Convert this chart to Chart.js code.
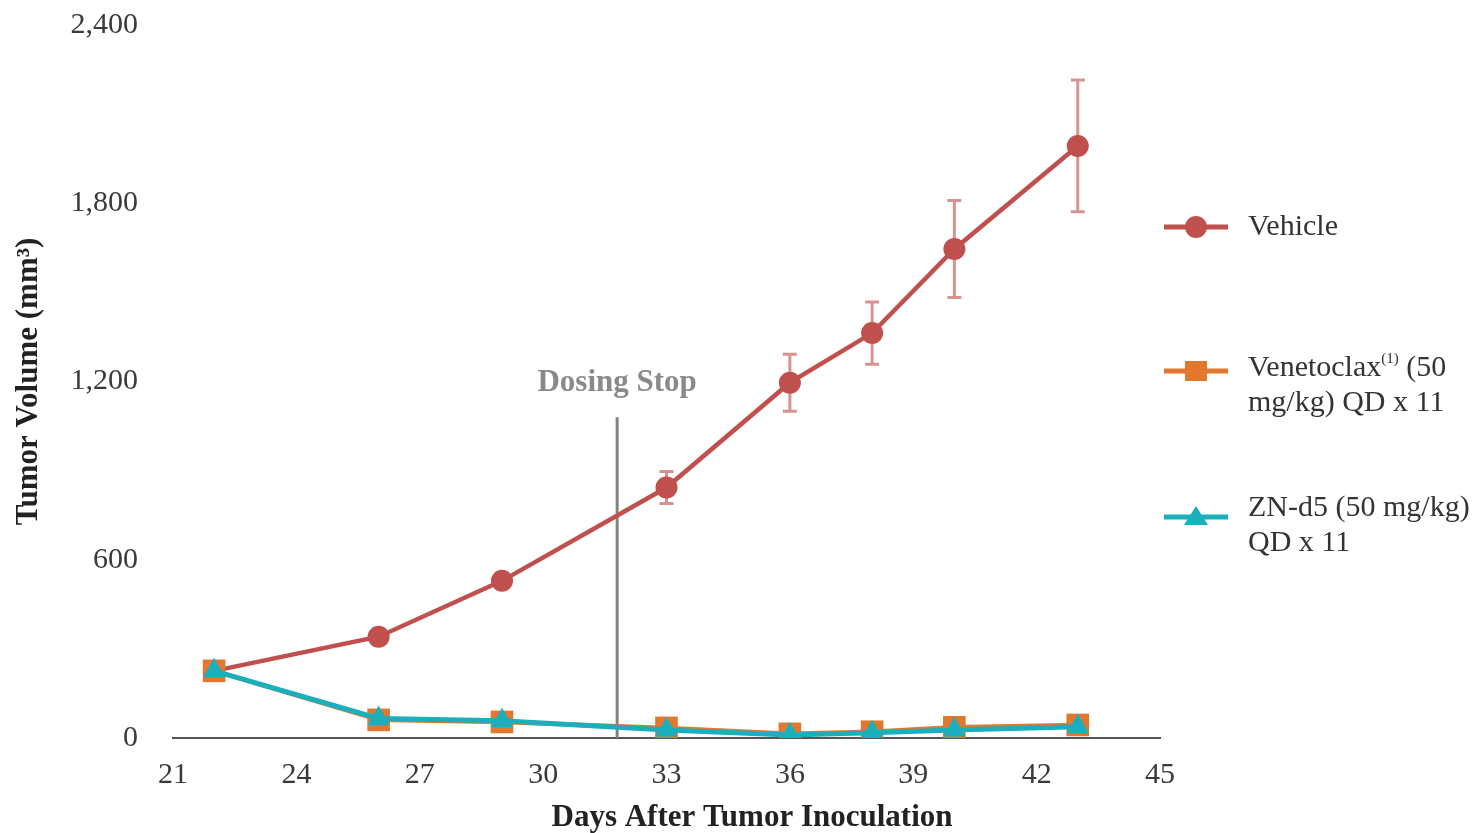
<!DOCTYPE html>
<html>
<head>
<meta charset="utf-8">
<script src="https://cdn.jsdelivr.net/npm/chart.js@4/dist/chart.umd.min.js"></script>
<style>
  html, body { margin: 0; padding: 0; background: #ffffff; }
  #wrap { width: 1474px; height: 833px; position: relative; }
</style>
</head>
<body>
<div id="wrap"><canvas id="c" width="1474" height="833"></canvas></div>
<script>
// ---- Data ----
const days = [22, 26, 29, 33, 36, 38, 40, 43];
const vehicle = [226, 341, 529, 843, 1196, 1363, 1646, 1993];
const vehicleErr = [0, 0, 0, 54, 96, 105, 163, 222];
const venetoclax = [226, 61, 54, 34, 14, 21, 36, 44];
const znd5 = [226, 66, 58, 27, 10, 18, 27, 38];
const xTicks = [21, 24, 27, 30, 33, 36, 39, 42, 45];
const yTicks = [0, 600, 1200, 1800, 2400];
const dosingStopDay = 31.8;
const dosingStopTop = 1080;
const dosingLabelValue = 1195;
const seriesNames = ['Vehicle', 'Venetoclax', 'ZN-d5'];
const xTitle = 'Days After Tumor Inoculation';
const yTitle = 'Tumor Volume (mm³)';

const RED = '#C0504D';
const ORANGE = '#E2772E';
const TEAL = '#1BAEBC';
const SERIF = "'Liberation Serif', 'Times New Roman', serif";

function pts(xs, ys) { return xs.map((x, i) => ({ x: x, y: ys[i] })); }

const errorBarsPlugin = {
  id: 'errorBars',
  beforeDatasetsDraw(chart) {
    const ctx = chart.ctx, xs = chart.scales.x, ys = chart.scales.y;
    ctx.save();
    ctx.strokeStyle = 'rgba(192,80,77,0.62)';
    ctx.lineWidth = 3;
    days.forEach((d, i) => {
      const e = vehicleErr[i];
      if (!e) return;
      const x = xs.getPixelForValue(d);
      const yt = ys.getPixelForValue(vehicle[i] + e);
      const yb = ys.getPixelForValue(vehicle[i] - e);
      ctx.beginPath();
      ctx.moveTo(x, yt); ctx.lineTo(x, yb);
      ctx.moveTo(x - 7, yt); ctx.lineTo(x + 7, yt);
      ctx.moveTo(x - 7, yb); ctx.lineTo(x + 7, yb);
      ctx.stroke();
    });
    ctx.restore();
  }
};

const annotPlugin = {
  id: 'annot',
  afterDatasetsDraw(chart) {
    const ctx = chart.ctx, xs = chart.scales.x, ys = chart.scales.y;
    ctx.save();
    ctx.fillStyle = '#8a8a8a';
    ctx.font = 'bold 31px ' + SERIF;
    ctx.textAlign = 'center';
    ctx.textBaseline = 'middle';
    ctx.fillText('Dosing Stop', xs.getPixelForValue(dosingStopDay), ys.getPixelForValue(dosingLabelValue));
    // x-axis title (offset to the right as in the source figure)
    ctx.fillStyle = '#222222';
    ctx.font = 'bold 31px ' + SERIF;
    ctx.fillText(xTitle, 752, 818);
    ctx.restore();
  }
};

function drawMarker(ctx, style, x, y, color) {
  ctx.fillStyle = color;
  ctx.beginPath();
  if (style === 'circle') {
    ctx.arc(x, y, 11, 0, Math.PI * 2);
  } else if (style === 'rect') {
    ctx.rect(x - 11, y - 10, 22, 20);
  } else {
    ctx.moveTo(x, y - 11);
    ctx.lineTo(x + 12, y + 8);
    ctx.lineTo(x - 12, y + 8);
    ctx.closePath();
  }
  ctx.fill();
}

const legendPlugin = {
  id: 'customLegend',
  afterDraw(chart) {
    const ctx = chart.ctx;
    const items = [
      { color: RED, style: 'circle', my: 227, lines: [[{ t: seriesNames[0] }]], ty: [227] },
      { color: ORANGE, style: 'rect', my: 371, lines: [[{ t: seriesNames[1] }, { t: '(1)', sup: true }, { t: ' (50' }], [{ t: 'mg/kg) QD x 11' }]], ty: [368, 403] },
      { color: TEAL, style: 'triangle', my: 517, lines: [[{ t: seriesNames[2] + ' (50 mg/kg)' }], [{ t: 'QD x 11' }]], ty: [508, 543] }
    ];
    ctx.save();
    items.forEach(it => {
      ctx.strokeStyle = it.color;
      ctx.lineWidth = 5;
      ctx.beginPath();
      ctx.moveTo(1164, it.my); ctx.lineTo(1228, it.my);
      ctx.stroke();
      drawMarker(ctx, it.style, 1196, it.my, it.color);
      ctx.fillStyle = '#333333';
      ctx.textBaseline = 'middle';
      ctx.textAlign = 'left';
      it.lines.forEach((parts, li) => {
        let x = 1248;
        parts.forEach(p => {
          if (p.sup) {
            ctx.font = '15px ' + SERIF;
            ctx.fillText(p.t, x, it.ty[li] - 9);
          } else {
            ctx.font = '30px ' + SERIF;
            ctx.fillText(p.t, x, it.ty[li]);
          }
          x += ctx.measureText(p.t).width;
        });
      });
    });
    ctx.restore();
  }
};

new Chart(document.getElementById('c'), {
  type: 'line',
  data: {
    datasets: [
      {
        label: seriesNames[2], data: pts(days, znd5), order: 1,
        borderColor: TEAL, backgroundColor: TEAL, borderWidth: 5,
        pointStyle: 'triangle', pointRadius: 13, pointBorderWidth: 0,
        pointBackgroundColor: TEAL, tension: 0
      },
      {
        label: seriesNames[1], data: pts(days, venetoclax), order: 2,
        borderColor: ORANGE, backgroundColor: ORANGE, borderWidth: 4.5,
        pointStyle: 'rect', pointRadius: 16, pointBorderWidth: 0,
        pointBackgroundColor: ORANGE, tension: 0
      },
      {
        label: seriesNames[0], data: pts(days, vehicle), order: 3,
        borderColor: RED, backgroundColor: RED, borderWidth: 4.5,
        pointStyle: 'circle', pointRadius: 11, pointBorderWidth: 0,
        pointBackgroundColor: RED, tension: 0
      },
      {
        label: 'Dosing Stop', data: [{ x: dosingStopDay, y: 0 }, { x: dosingStopDay, y: dosingStopTop }], order: 4,
        borderColor: '#828282', borderWidth: 3, pointRadius: 0, tension: 0
      }
    ]
  },
  options: {
    responsive: false,
    animation: false,
    events: [],
    layout: { padding: { top: 0, right: 314, left: 0, bottom: 0 } },
    plugins: { legend: { display: false }, tooltip: { enabled: false }, title: { display: false } },
    scales: {
      x: {
        type: 'linear', min: 21, max: 45,
        afterBuildTicks(s) { s.ticks = xTicks.map(v => ({ value: v })); },
        afterFit(s) { s.height = 95; },
        grid: { display: false, drawTicks: false },
        border: { display: true, color: '#555555', width: 2 },
        ticks: { color: '#3a3a3a', font: { family: SERIF, size: 30 }, padding: 19, maxRotation: 0, autoSkip: false },
        title: { display: false }
      },
      y: {
        type: 'linear', min: 0, max: 2400,
        afterBuildTicks(s) { s.ticks = yTicks.map(v => ({ value: v })); },
        afterFit(s) { s.width = 173; s.paddingTop = 25; s.paddingBottom = 0; },
        grid: { display: false, drawTicks: false },
        border: { display: false },
        ticks: { color: '#3a3a3a', font: { family: SERIF, size: 30 }, padding: 35,
          callback: v => Number(v).toLocaleString('en-US') },
        title: { display: true, text: yTitle, color: '#222222',
          font: { family: SERIF, size: 31, weight: 'bold', lineHeight: 1.2 }, padding: { top: 10, bottom: 0 } }
      }
    }
  },
  plugins: [errorBarsPlugin, annotPlugin, legendPlugin]
});
</script>
</body>
</html>
